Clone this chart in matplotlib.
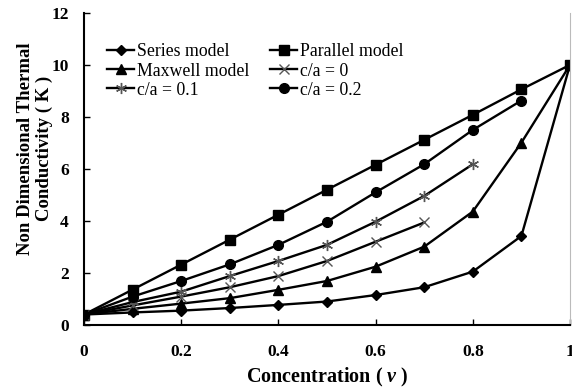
import matplotlib
matplotlib.use("Agg")
import matplotlib.pyplot as plt

plt.rcParams['font.family'] = ['Liberation Serif', 'DejaVu Serif']
plt.rcParams['mathtext.fontset'] = 'custom'
plt.rcParams['mathtext.it'] = 'Liberation Serif:italic:bold'
plt.rcParams['mathtext.rm'] = 'Liberation Serif:bold'

x = [0, 0.1, 0.2, 0.3, 0.4, 0.5, 0.6, 0.7, 0.8, 0.9, 1.0]
series_model = [0.4, 0.48, 0.55, 0.65, 0.77, 0.9, 1.15, 1.45, 2.05, 3.42, 10.0]
parallel_model = [0.4, 1.36, 2.32, 3.28, 4.24, 5.2, 6.16, 7.12, 8.08, 9.06, 10.0]
maxwell_model = [0.4, 0.62, 0.82, 1.03, 1.35, 1.69, 2.24, 3.01, 4.36, 7.01, 10.0]
x_ca0 = [0, 0.1, 0.2, 0.3, 0.4, 0.5, 0.6, 0.7]
ca0 = [0.4, 0.75, 1.09, 1.45, 1.88, 2.46, 3.2, 3.94]
x_ca01 = [0, 0.1, 0.2, 0.3, 0.4, 0.5, 0.6, 0.7, 0.8]
ca01 = [0.4, 0.88, 1.28, 1.88, 2.46, 3.08, 3.97, 4.96, 6.18]
x_ca02 = [0, 0.1, 0.2, 0.3, 0.4, 0.5, 0.6, 0.7, 0.8, 0.9]
ca02 = [0.4, 1.09, 1.69, 2.33, 3.08, 3.97, 5.1, 6.18, 7.5, 8.63]

fig = plt.figure(figsize=(5.72, 3.91), dpi=100)
ax = fig.add_axes([0.147, 0.169, 0.8495, 0.798])

lw = 1.7
h_series, = ax.plot(x, series_model, color='black', lw=lw, marker='D', ms=5, label='Series model')
h_par, = ax.plot(x, parallel_model, color='black', lw=lw, marker='s', ms=7, label='Parallel model')
h_max, = ax.plot(x, maxwell_model, color='black', lw=lw, marker='^', ms=7, label='Maxwell model')
h_c0, = ax.plot(x_ca0, ca0, color='black', lw=lw, marker='x', ms=7, mec='#555555', mew=1.0, label='c/a = 0')
h_c01, = ax.plot(x_ca01, ca01, color='black', lw=lw, marker=(6, 2, 0), ms=8, mec='#555555', mew=1.0, label='c/a = 0.1')
h_c02, = ax.plot(x_ca02, ca02, color='black', lw=lw, marker='o', ms=7, label='c/a = 0.2')

ax.set_xlim(0, 1)
ax.set_ylim(0, 12)
ax.set_xticks([0, 0.2, 0.4, 0.6, 0.8, 1.0])
ax.set_xticklabels(['0', '0.2', '0.4', '0.6', '0.8', '1'])
ax.set_yticks([0, 2, 4, 6, 8, 10, 12])
ax.tick_params(direction='in', length=4, width=1, labelsize=12.5)
ax.tick_params(axis='x', pad=14)
ax.tick_params(axis='y', pad=11)
for lab in ax.get_xticklabels() + ax.get_yticklabels():
    lab.set_fontweight('bold')

ax.spines['top'].set_visible(False)
ax.spines['right'].set_color('#bbbbbb')
ax.spines['left'].set_linewidth(1.5)
ax.spines['bottom'].set_linewidth(1.5)

ax.set_xlabel('Concentration ( $v$ )', fontsize=14.5, fontweight='bold', labelpad=4)
ax.set_ylabel('Non Dimensional Thermal\nConductivity ( K )', fontsize=13.5, fontweight='bold',
              linespacing=1.1)
ax.yaxis.set_label_coords(-0.064, 0.565)

ax.legend(handles=[h_series, h_max, h_c01, h_par, h_c0, h_c02], ncol=2, frameon=False,
          loc='upper left', bbox_to_anchor=(0.033, 0.925), fontsize=12.8,
          handlelength=1.5, handletextpad=0.15, columnspacing=1.2, labelspacing=0.12,
          borderaxespad=0)

fig.savefig('out.png', dpi=100)
